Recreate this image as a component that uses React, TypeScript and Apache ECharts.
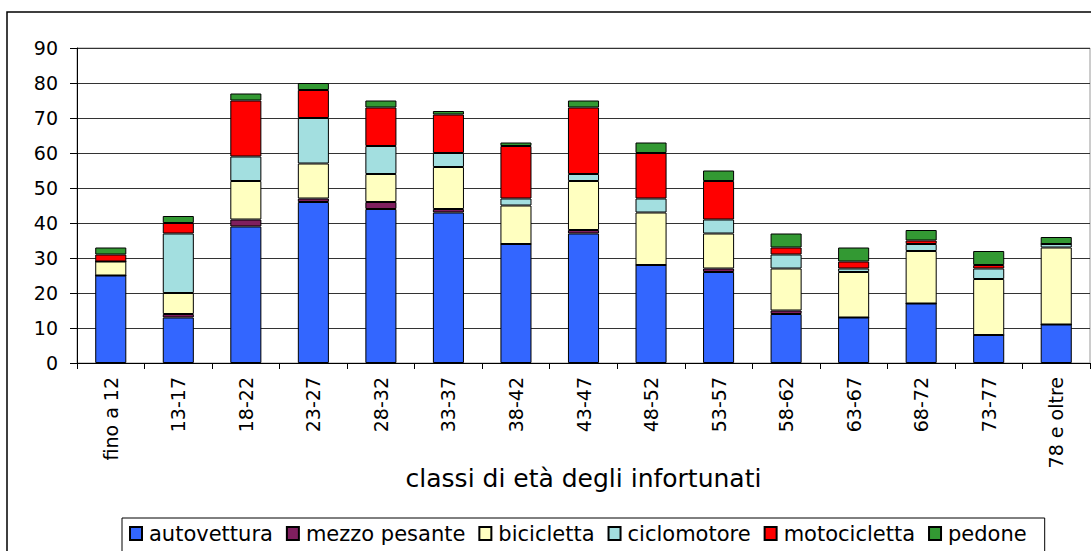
import React, { useEffect, useRef } from "react";
import * as echarts from "echarts";

const categories = ["fino a 12", "13-17", "18-22", "23-27", "28-32", "33-37", "38-42", "43-47", "48-52", "53-57", "58-62", "63-67", "68-72", "73-77", "78 e oltre"];
const autovettura = [25, 13, 39, 46, 44, 43, 34, 37, 28, 26, 14, 13, 17, 8, 11];
const mezzoPesante = [0, 1, 2, 1, 2, 1, 0, 1, 0, 1, 1, 0, 0, 0, 0];
const bicicletta = [4, 6, 11, 10, 8, 12, 11, 14, 15, 10, 12, 13, 15, 16, 22];
const ciclomotore = [0, 17, 7, 13, 8, 4, 2, 2, 4, 4, 4, 1, 2, 3, 1];
const motocicletta = [2, 3, 16, 8, 11, 11, 15, 19, 13, 11, 2, 2, 1, 1, 0];
const pedone = [2, 2, 2, 2, 2, 1, 1, 2, 3, 3, 4, 4, 3, 4, 2];

const seriesDefs = [
  { name: "autovettura", data: autovettura, color: "#3366FF" },
  { name: "mezzo pesante", data: mezzoPesante, color: "#7F1F5F" },
  { name: "bicicletta", data: bicicletta, color: "#FFFFC0" },
  { name: "ciclomotore", data: ciclomotore, color: "#A3DFE0" },
  { name: "motocicletta", data: motocicletta, color: "#FF0000" },
  { name: "pedone", data: pedone, color: "#339933" },
];

const FONT = "DejaVu Sans";

export default function App() {
  const ref = useRef<HTMLDivElement>(null);
  useEffect(() => {
    if (!ref.current) return;
    const chart = echarts.init(ref.current, null, { renderer: "svg" });
    chart.setOption({
      animation: false,
      backgroundColor: "#fff",
      grid: {
        left: 77,
        right: 1,
        top: 48,
        bottom: 188,
        show: true,
        borderColor: "#999",
        borderWidth: 1,
      },
      graphic: [
        {
          type: "rect",
          shape: { x: 7, y: 12, width: 1200, height: 700 },
          style: { fill: "none", stroke: "#000", lineWidth: 1.5 },
          silent: true,
          z: -1,
        },
      ],
      legend: {
        data: seriesDefs.map((s) => s.name),
        left: 122,
        top: 518,
        padding: [5, 18, 10, 7],
        itemGap: 13,
        itemWidth: 12,
        itemHeight: 13,
        icon: "rect",
        borderColor: "#000",
        borderWidth: 1,
        textStyle: { fontFamily: FONT, fontSize: 21, color: "#000", padding: [0, 0, 0, 2] },
      },
      xAxis: {
        type: "category",
        data: categories,
        name: "classi di età degli infortunati",
        nameLocation: "middle",
        nameGap: 103,
        nameMoveOverlap: false,
        nameTextStyle: { fontFamily: FONT, fontSize: 25, color: "#000" },
        axisLine: { lineStyle: { color: "#000", width: 1 } },
        axisTick: { show: true, length: 6, lineStyle: { color: "#000" } },
        axisLabel: {
          rotate: 90,
          margin: 14,
          fontFamily: FONT,
          fontSize: 19,
          color: "#000",
        },
      },
      yAxis: {
        type: "value",
        min: 0,
        max: 90,
        interval: 10,
        axisLine: { show: true, lineStyle: { color: "#000", width: 1 } },
        axisTick: { show: true, length: 7, lineStyle: { color: "#000" } },
        axisLabel: { fontFamily: FONT, fontSize: 19, color: "#000", margin: 19 },
        splitLine: { show: true, lineStyle: { color: "#333", width: 1 } },
      },
      series: seriesDefs.map((s) => ({
        name: s.name,
        type: "bar",
        stack: "total",
        barWidth: "46%",
        data: s.data,
        itemStyle: { color: s.color, borderColor: "#000", borderWidth: 1 },
      })),
    });
    return () => chart.dispose();
  }, []);
  return (
    <div
      ref={ref}
      style={{ position: "fixed", left: 0, top: 0, width: 1091, height: 551 }}
    />
  );
}
